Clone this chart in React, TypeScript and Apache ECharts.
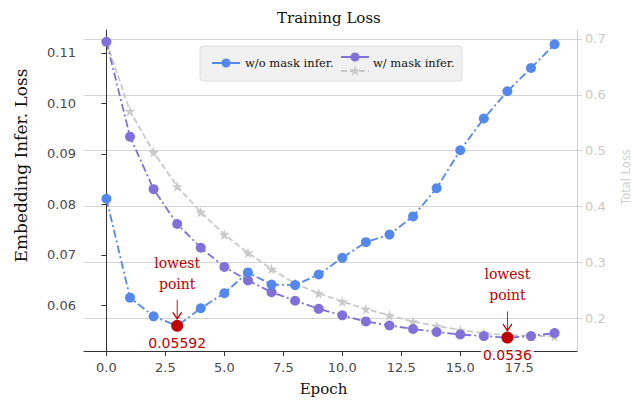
import React, { useEffect, useRef } from "react";
import * as echarts from "echarts";

const epochs = [0, 1, 2, 3, 4, 5, 6, 7, 8, 9, 10, 11, 12, 13, 14, 15, 16, 17, 18, 19];
const woMask = [0.0811, 0.0615, 0.0578, 0.05592, 0.0594, 0.0624, 0.0665, 0.0641, 0.064, 0.0661, 0.0694, 0.0725, 0.074, 0.0776, 0.0832, 0.0907, 0.097, 0.1024, 0.107, 0.1117];
const wMask = [0.1122, 0.0934, 0.083, 0.0761, 0.0714, 0.0676, 0.0649, 0.0626, 0.0609, 0.0593, 0.058, 0.0568, 0.056, 0.0553, 0.0547, 0.0542, 0.0539, 0.0536, 0.0539, 0.0545];
const totalLoss = [0.695, 0.571, 0.497, 0.436, 0.39, 0.35, 0.317, 0.288, 0.262, 0.2445, 0.23, 0.2165, 0.205, 0.194, 0.186, 0.179, 0.173, 0.17, 0.1685, 0.1675];
const xTicks = [0, 2.5, 5, 7.5, 10, 12.5, 15, 17.5];
const leftTicks = [0.06, 0.07, 0.08, 0.09, 0.1, 0.11];
const rightTicks = [0.2, 0.3, 0.4, 0.5, 0.6, 0.7];
const seriesNames = ["w/o mask infer.", "w/ mask infer.", "Total Loss"];

const BLUE = "#5388EC";
const PURPLE = "#8170DA";
const GREY = "#C9C9C9";
const RED = "#C00000";
const STAR = "path://M50,0 L61,35 L98,35 L68,57 L79,91 L50,70 L21,91 L32,57 L2,35 L39,35 Z";
const ARROW = "path://M5,0 L5,20 M0,13 L5,20 L10,13";

function argMin(a: number[]) {
  let k = 0;
  a.forEach((v, i) => {
    if (v < a[k]) k = i;
  });
  return k;
}

function lowestMarks(vals: number[]) {
  const i = argMin(vals);
  const coord = [epochs[i], vals[i]];
  return {
    silent: true,
    z: 20,
    data: [
      {
        coord,
        symbol: "circle",
        symbolSize: 12,
        itemStyle: { color: RED },
        label: {
          show: true,
          position: "bottom",
          distance: 4,
          formatter: String(vals[i]),
          color: RED,
          fontFamily: "DejaVu Sans",
          fontSize: 14,
          backgroundColor: "rgba(255,255,255,0.8)",
          padding: [0, 2],
        },
      },
      {
        coord,
        symbol: ARROW,
        symbolSize: [9, 19],
        symbolOffset: [0, -16.5],
        itemStyle: { color: "none", borderColor: RED, borderWidth: 1.3 },
        label: {
          show: true,
          position: "top",
          distance: 2,
          formatter: "lowest\npoint",
          color: RED,
          fontFamily: "DejaVu Serif",
          fontSize: 14,
          lineHeight: 21,
        },
      },
    ],
  };
}

function starPoints(cx: number, cy: number, R: number, r: number) {
  const pts: number[][] = [];
  for (let k = 0; k < 10; k++) {
    const rad = k % 2 === 0 ? R : r;
    const ang = -Math.PI / 2 + (k * Math.PI) / 5;
    pts.push([cx + rad * Math.cos(ang), cy + rad * Math.sin(ang)]);
  }
  return pts;
}

export default function App() {
  const ref = useRef<HTMLDivElement>(null);
  useEffect(() => {
    if (!ref.current) return;
    const chart = echarts.init(ref.current, undefined, { renderer: "svg" });
    const tickLabel = { fontFamily: "DejaVu Sans", fontSize: 13, color: "#4A4A4A" };
    chart.setOption({
      animation: false,
      backgroundColor: "#fff",
      title: {
        text: "Training Loss",
        left: 272,
        top: 5,
        textStyle: { fontFamily: "DejaVu Serif", fontSize: 15, fontWeight: "normal", color: "#111" },
      },
      grid: { left: 84, right: 67, top: 30, bottom: 48 },
      xAxis: {
        type: "value",
        min: -0.95,
        max: 19.95,
        name: "Epoch",
        nameLocation: "middle",
        nameGap: 30,
        nameTextStyle: { fontFamily: "DejaVu Serif", fontSize: 15, color: "#111", padding: [0, 14, 0, 0] },
        axisLine: { lineStyle: { color: "#333", width: 1 } },
        axisTick: { customValues: xTicks, length: 5, lineStyle: { color: "#333" } },
        axisLabel: { ...tickLabel, customValues: xTicks, margin: 10, formatter: (v: number) => v.toFixed(1) },
        splitLine: { show: false },
      },
      yAxis: [
        {
          type: "value",
          min: 0.05094,
          max: 0.11453,
          position: "left",
          name: "Embedding Infer. Loss",
          nameLocation: "middle",
          nameRotate: 90,
          nameGap: 55,
          nameTextStyle: { fontFamily: "DejaVu Serif", fontSize: 17, color: "#111", padding: [0, 0, 0, 50] },
          axisLine: { show: true, lineStyle: { color: "#333", width: 1 } },
          axisTick: { show: true, customValues: leftTicks, length: 5, lineStyle: { color: "#333" } },
          axisLabel: { ...tickLabel, customValues: leftTicks, margin: 8, formatter: (v: number) => v.toFixed(2) },
          splitLine: { show: false },
        },
        {
          type: "value",
          min: 0.1413,
          max: 0.716,
          position: "right",
          name: "Total Loss",
          nameLocation: "middle",
          nameRotate: 90,
          nameGap: 43,
          nameTextStyle: { fontFamily: "DejaVu Sans", fontSize: 11.5, color: "#D0D0D0", padding: [0, 0, 0, 27] },
          axisLine: { show: true, lineStyle: { color: "#D0D0D0", width: 1 } },
          axisTick: { show: true, customValues: rightTicks, length: 5, lineStyle: { color: "#D0D0D0" } },
          axisLabel: { fontFamily: "DejaVu Sans", fontSize: 13, color: "#C8C8C8", customValues: rightTicks, margin: 8, formatter: (v: number) => v.toFixed(1) },
          splitLine: { show: true, lineStyle: { color: "#D4D4D4", width: 1 } },
        },
      ],
      series: [
        {
          name: seriesNames[2],
          type: "line",
          yAxisIndex: 1,
          z: 2,
          data: epochs.map((e, i) => [e, totalLoss[i]]),
          symbol: STAR,
          symbolSize: 11,
          itemStyle: { color: GREY },
          lineStyle: { color: GREY, width: 1.8, type: [6, 3] },
        },
        {
          name: seriesNames[1],
          type: "line",
          yAxisIndex: 0,
          z: 3,
          data: epochs.map((e, i) => [e, wMask[i]]),
          symbol: "circle",
          symbolSize: 10,
          itemStyle: { color: PURPLE },
          lineStyle: { color: PURPLE, width: 1.8, type: [8, 3, 2, 3] },
          markPoint: lowestMarks(wMask),
        },
        {
          name: seriesNames[0],
          type: "line",
          yAxisIndex: 0,
          z: 4,
          data: epochs.map((e, i) => [e, woMask[i]]),
          symbol: "circle",
          symbolSize: 10,
          itemStyle: { color: BLUE },
          lineStyle: { color: BLUE, width: 1.8, type: [8, 3, 2, 3] },
          markPoint: lowestMarks(woMask),
        },
      ],
      graphic: [
        {
          type: "group",
          z: 50,
          children: [
            { type: "rect", shape: { x: 200, y: 46, width: 262, height: 35, r: 3 }, style: { fill: "#F1F1F1", stroke: "#DCDCDC", lineWidth: 1 } },
            { type: "line", shape: { x1: 212, y1: 63, x2: 240, y2: 63 }, style: { stroke: BLUE, lineWidth: 2 } },
            { type: "circle", shape: { cx: 226, cy: 63, r: 4.5 }, style: { fill: BLUE } },
            { type: "text", x: 245, y: 63, style: { text: seriesNames[0], fontFamily: "DejaVu Serif", fontSize: 11.5, fill: "#111", verticalAlign: "middle" } },
            { type: "line", shape: { x1: 341, y1: 57, x2: 369, y2: 57 }, style: { stroke: PURPLE, lineWidth: 2 } },
            { type: "circle", shape: { cx: 355, cy: 57, r: 4.5 }, style: { fill: PURPLE } },
            { type: "line", shape: { x1: 341, y1: 71, x2: 369, y2: 71 }, style: { stroke: GREY, lineWidth: 1.8, lineDash: [6, 3] } },
            { type: "polygon", shape: { points: starPoints(355, 71, 5.5, 2.3) }, style: { fill: GREY } },
            { type: "text", x: 373, y: 63, style: { text: seriesNames[1], fontFamily: "DejaVu Serif", fontSize: 11.5, fill: "#111", verticalAlign: "middle" } },
          ],
        },
      ],
    });
    return () => chart.dispose();
  }, []);
  return <div ref={ref} style={{ width: 644, height: 401, position: "absolute", left: 0, top: 0 }} />;
}
